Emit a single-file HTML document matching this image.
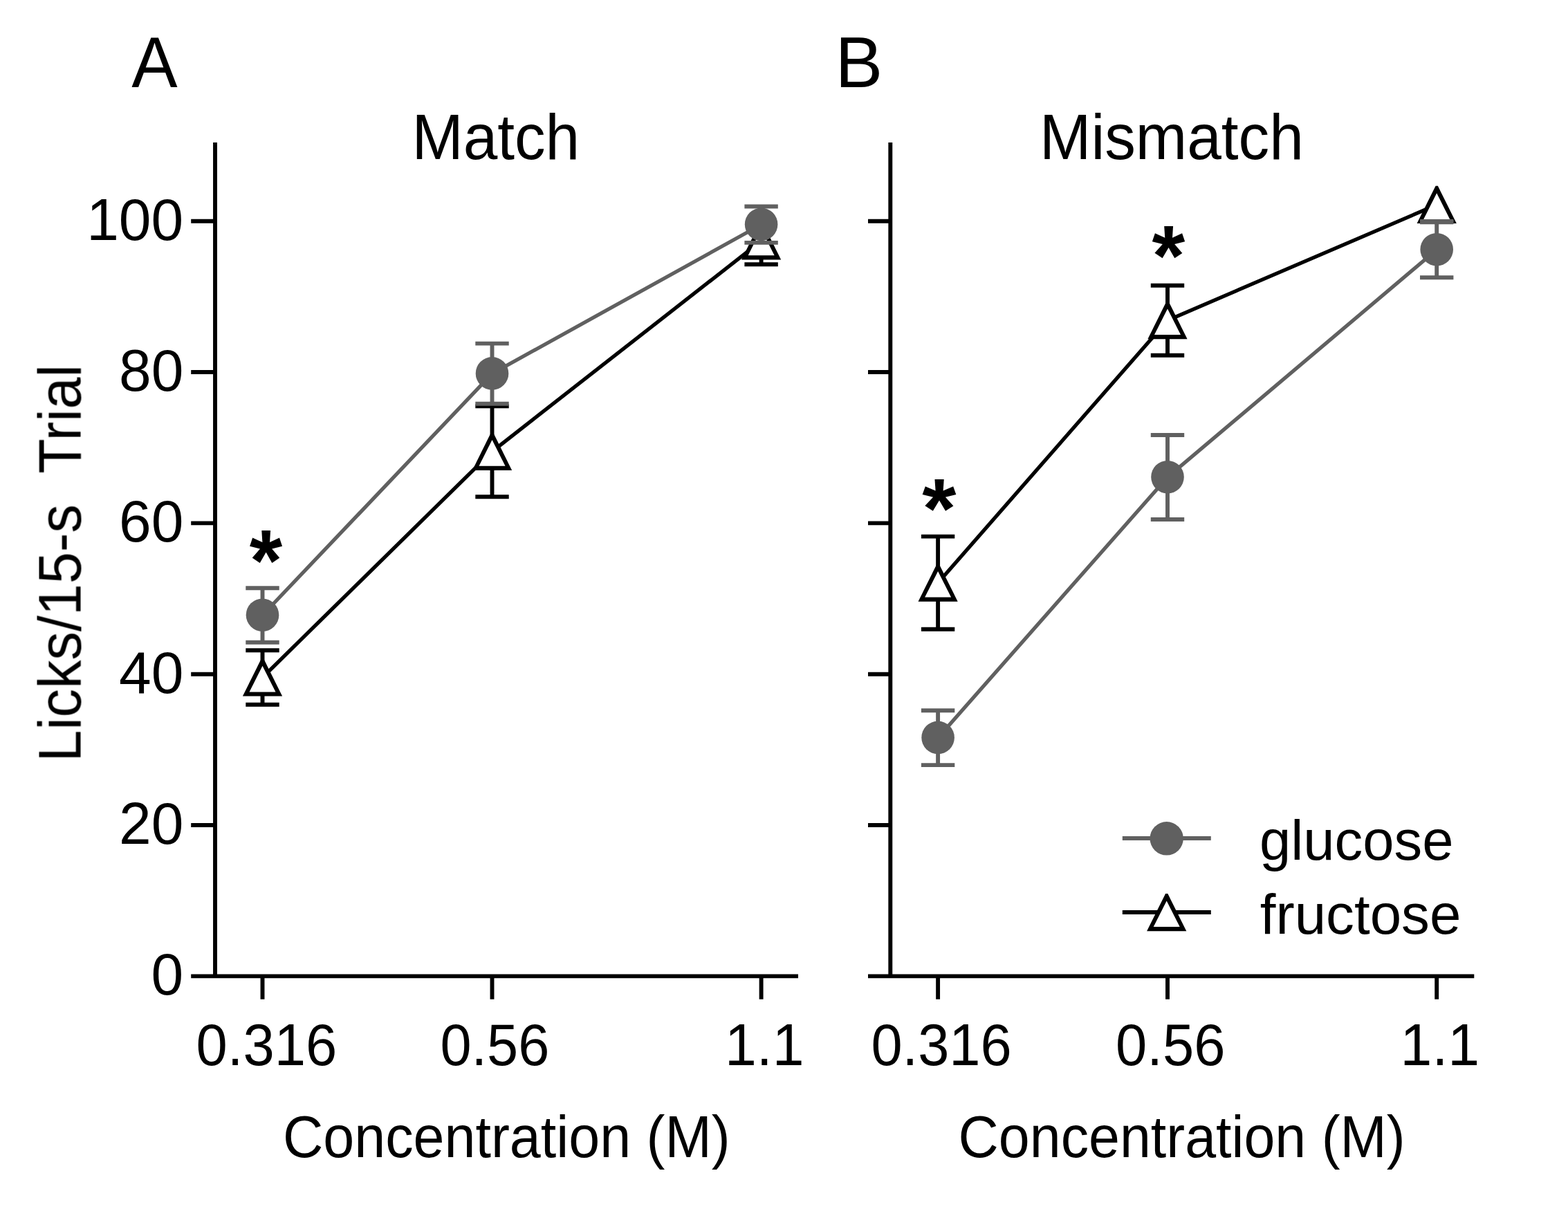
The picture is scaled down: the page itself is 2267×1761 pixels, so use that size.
<!DOCTYPE html>
<html lang="en">
<head>
<meta charset="utf-8">
<title>Licks per 15-s trial as a function of concentration: Match vs Mismatch</title>
<style>
html,body{margin:0;padding:0;background:#fff;}
body{width:2267px;height:1761px;overflow:hidden;}
svg{display:block;}
#fig{filter:blur(0.7px);}
text{font-family:'Liberation Sans', sans-serif;fill:#000;white-space:pre;}
.ax{stroke:#000;stroke-width:5.9;fill:none;stroke-linecap:butt;}
.lg{stroke:#606060;stroke-width:5.3;fill:none;}
.lb{stroke:#000;stroke-width:5.3;fill:none;}
.kg{stroke:#606060;stroke-width:5.8;fill:none;}
.kb{stroke:#000;stroke-width:5.8;fill:none;}
.eg{stroke:#606060;stroke-width:5.9;fill:none;}
.eb{stroke:#000;stroke-width:5.9;fill:none;}
.cg{fill:#606060;stroke:none;}
.to{fill:#000;}
.ti{fill:#fff;}
</style>
</head>
<body>
<svg width="2267" height="1761" viewBox="0 0 2267 1761" role="img" aria-label="Licks per 15-s trial versus concentration for glucose and fructose, Match and Mismatch panels">
<rect width="2267" height="1761" fill="#fff"/>
<g id="fig">
<g id="panel-A">
<polyline class="lb" points="379.5,979.5 711.5,652.8 1100.6,348.4"/>
<path class="eb" d="M379.5 940.3 V1018.7 M355.3 940.3 H403.7 M355.3 1018.7 H403.7"/>
<path class="eb" d="M711.5 587.4 V718.2 M687.3 587.4 H735.7 M687.3 718.2 H735.7"/>
<path class="eb" d="M1100.6 348.4 V382.2 M1076.4 382.2 H1124.8"/>
<polygon class="to" points="377.9,952.2 381.1,952.2 408.1,1006.6 350.9,1006.6"/><polygon class="ti" points="379.5,962.7 398.5,1000.4 360.5,1000.4"/>
<polygon class="to" points="709.9,625.5 713.1,625.5 740.1,679.9 682.9,679.9"/><polygon class="ti" points="711.5,636 730.5,673.7 692.5,673.7"/>
<polygon class="to" points="1099,321.1 1102.2,321.1 1129.2,375.5 1072,375.5"/><polygon class="ti" points="1100.6,331.6 1119.6,369.3 1081.6,369.3"/>
<polyline class="lg" points="379.5,889.5 711.5,540.2 1100.6,324.7"/>
<path class="eg" d="M379.5 850.2 V928.8 M355.3 850.2 H403.7 M355.3 928.8 H403.7"/>
<path class="eg" d="M711.5 496.6 V583.8 M687.3 496.6 H735.7 M687.3 583.8 H735.7"/>
<path class="eg" d="M1100.6 298.5 V350.9 M1076.4 298.5 H1124.8 M1076.4 350.9 H1124.8"/>
<circle class="cg" cx="379.5" cy="889.2" r="23.8"/>
<circle class="cg" cx="711.5" cy="539.9" r="23.8"/>
<circle class="cg" cx="1100.6" cy="324.4" r="23.8"/>
<path class="ax" d="M311 206 V1414.35 M276.2 1411.4 H1154 M276.2 1193.06 H311 M276.2 974.72 H311 M276.2 756.38 H311 M276.2 538.04 H311 M276.2 319.7 H311 M379.5 1411.4 V1444.8 M711.5 1411.4 V1444.8 M1100.6 1411.4 V1444.8"/>
</g>
<g id="panel-B">
<polyline class="lb" points="1356.1,842.7 1688,463.2 2077.2,296"/>
<path class="eb" d="M1356.1 775.6 V909.8 M1331.9 775.6 H1380.3 M1331.9 909.8 H1380.3"/>
<path class="eb" d="M1688 412.7 V513.7 M1663.8 412.7 H1712.2 M1663.8 513.7 H1712.2"/>
<polygon class="to" points="1354.5,815.4 1357.7,815.4 1384.7,869.8 1327.5,869.8"/><polygon class="ti" points="1356.1,825.9 1375.1,863.6 1337.1,863.6"/>
<polygon class="to" points="1686.4,435.9 1689.6,435.9 1716.6,490.3 1659.4,490.3"/><polygon class="ti" points="1688,446.4 1707,484.1 1669,484.1"/>
<polygon class="to" points="2075.6,268.7 2078.8,268.7 2105.8,323.1 2048.6,323.1"/><polygon class="ti" points="2077.2,279.2 2096.2,316.9 2058.2,316.9"/>
<polyline class="lg" points="1356.1,1066.7 1688,690 2077.2,361"/>
<path class="eg" d="M1356.1 1027.3 V1106.1 M1331.9 1027.3 H1380.3 M1331.9 1106.1 H1380.3"/>
<path class="eg" d="M1688 629 V751 M1663.8 629 H1712.2 M1663.8 751 H1712.2"/>
<path class="eg" d="M2077.2 320.7 V401.3 M2053 320.7 H2101.4 M2053 401.3 H2101.4"/>
<path d="M2053 320.7 H2101.4" stroke="#606060" stroke-width="7.2" fill="none"/>
<circle class="cg" cx="1356.1" cy="1066.4" r="23.8"/>
<circle class="cg" cx="1688" cy="689.7" r="23.8"/>
<circle class="cg" cx="2077.2" cy="360.7" r="23.8"/>
<path class="ax" d="M1287.3 206 V1414.35 M1255 1411.4 H2131.3 M1255 1193.06 H1287.3 M1255 974.72 H1287.3 M1255 756.38 H1287.3 M1255 538.04 H1287.3 M1255 319.7 H1287.3 M1356.1 1411.4 V1444.8 M1688 1411.4 V1444.8 M2077.2 1411.4 V1444.8"/>
</g>
<g id="legend">
<path class="kg" d="M1622.8 1212 H1750.8"/>
<circle class="cg" cx="1686.7" cy="1212.3" r="24.2"/>
<path class="kb" d="M1622.8 1319 H1750.8"/>
<polygon class="to" points="1685.1,1291.9 1688.3,1291.9 1715.3,1346.3 1658.1,1346.3"/><polygon class="ti" points="1686.7,1302.4 1705.7,1340.1 1667.7,1340.1"/>
</g>
<g id="labels">
<text transform="translate(190.35 125.9) scale(0.9632 1)" font-size="103.27">A</text>
<text transform="translate(1207.59 125.9) scale(0.9983 1)" font-size="103.27">B</text>
<text transform="translate(595.44 229.6) scale(0.9639 1)" font-size="92.5">Match</text>
<text transform="translate(1503.04 229.6) scale(0.9649 1)" font-size="92.5">Mismatch</text>
<text transform="translate(125.21 346.65) scale(0.9830 1)" font-size="85.37">100</text>
<text transform="translate(172 564.99) scale(0.9830 1)" font-size="85.37">80</text>
<text transform="translate(172 783.33) scale(0.9830 1)" font-size="85.37">60</text>
<text transform="translate(172 1001.67) scale(0.9830 1)" font-size="85.37">40</text>
<text transform="translate(172 1220.01) scale(0.9830 1)" font-size="85.37">20</text>
<text transform="translate(218.57 1438.35) scale(0.9830 1)" font-size="85.37">0</text>
<text transform="translate(283.54 1539.55) scale(0.9536 1)" font-size="85.37">0.316</text>
<text transform="translate(636.45 1539.55) scale(0.9503 1)" font-size="85.37">0.56</text>
<text transform="translate(1048.02 1539.55) scale(0.9650 1)" font-size="85.37">1.1</text>
<text transform="translate(1259.45 1539.55) scale(0.9516 1)" font-size="85.37">0.316</text>
<text transform="translate(1613.04 1539.55) scale(0.9534 1)" font-size="85.37">0.56</text>
<text transform="translate(2024.62 1539.55) scale(0.9650 1)" font-size="85.37">1.1</text>
<text transform="translate(408.96 1673.25) scale(0.9509 1)" font-size="85">Concentration (M)</text>
<text transform="translate(1385.56 1673.25) scale(0.9500 1)" font-size="85">Concentration (M)</text>
<text transform="translate(1821.04 1242.6) scale(0.9999 1)" font-size="81.38">glucose</text>
<text transform="translate(1821.77 1350) scale(1.0041 1)" font-size="81.38">fructose</text>
<text transform="translate(360.79 853.82) scale(0.9715 1)" font-size="125.41" font-weight="bold">*</text>
<text transform="translate(1333.37 776.93) scale(1.0267 1)" font-size="123.24" font-weight="bold">*</text>
<text transform="translate(1665.39 412.92) scale(0.9948 1)" font-size="123.51" font-weight="bold">*</text>
<text transform="translate(116.5 1101.52) rotate(-90) scale(0.9584 1)" font-size="86.3">Licks/15-s  Trial</text>
</g>
</g>
</svg>
</body>
</html>
